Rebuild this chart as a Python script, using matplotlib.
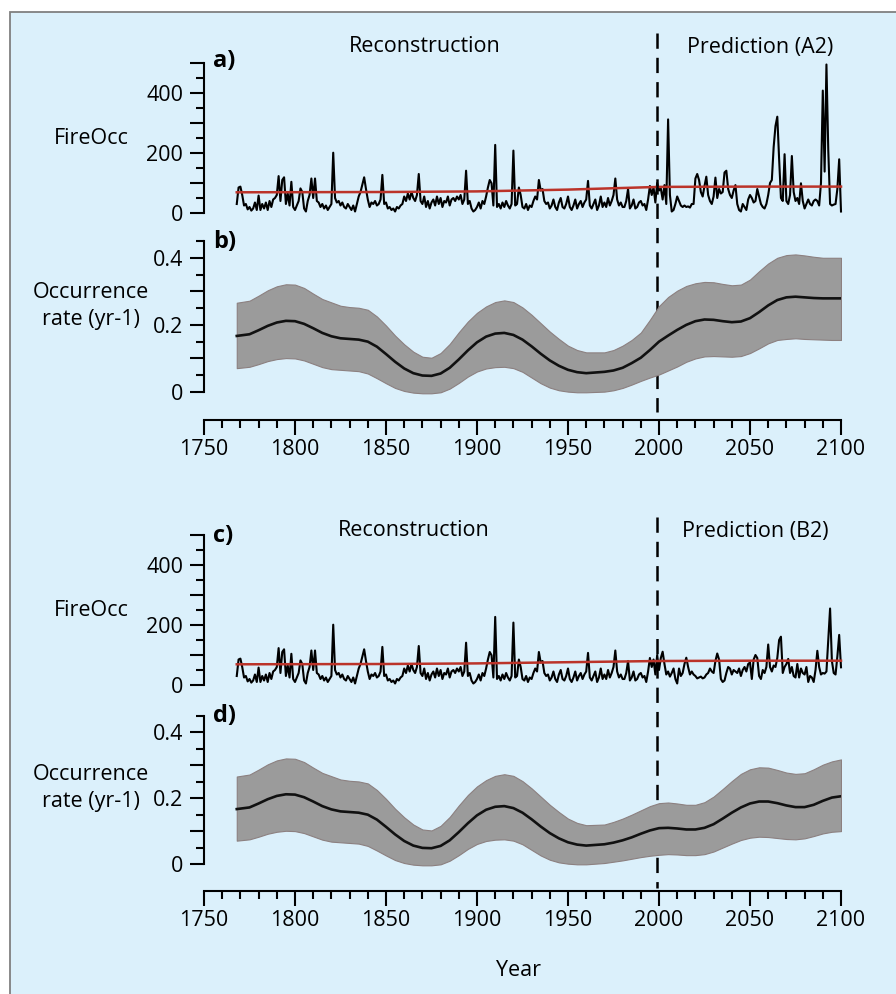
import matplotlib
matplotlib.use("Agg")
import matplotlib.pyplot as plt
from matplotlib.patches import Rectangle
from matplotlib.ticker import MultipleLocator, FixedLocator, FixedFormatter
import matplotlib.transforms as mtransforms

plt.rcParams['font.family'] = ['Open Sans', 'DejaVu Sans']
plt.rcParams['lines.scale_dashes'] = False

# ---------------- data ----------------
fire_start_year = 1768
# reconstruction 1768-1999 (shared by both scenarios)
fire_recon = [
    30, 85, 88, 60, 25, 30, 12, 20, 8, 15, 35, 10,          # 1768-1779
    58, 10, 30, 15, 35, 10, 40, 20, 45, 50,                 # 1780s
    60, 123, 40, 110, 119, 30, 65, 25, 104, 20,             # 1790s
    10, 25, 40, 82, 70, 15, 5, 40, 60, 115,                 # 1800s
    50, 115, 40, 35, 20, 30, 15, 25, 10, 20,                # 1810s
    30, 201, 50, 35, 40, 25, 35, 20, 15, 30,                # 1820s
    20, 10, 25, 5, 30, 55, 70, 95, 119, 80,                 # 1830s
    45, 20, 35, 30, 40, 25, 30, 45, 127, 30,                # 1840s
    35, 15, 20, 10, 15, 5, 20, 15, 25, 30,                  # 1850s
    55, 40, 65, 45, 70, 50, 40, 60, 130, 40,                # 1860s
    30, 55, 20, 40, 15, 35, 45, 25, 55, 30,                 # 1870s
    50, 20, 40, 35, 55, 25, 45, 50, 40, 55,                 # 1880s
    45, 60, 30, 45, 141, 30, 40, 15, 5, 10,                 # 1890s
    20, 35, 15, 40, 30, 55, 85, 110, 99, 25,                # 1900s
    227, 20, 30, 15, 35, 20, 40, 25, 15, 30,                # 1910s
    208, 25, 30, 85, 60, 20, 15, 30, 10, 25,                # 1920s
    20, 40, 55, 45, 110, 75, 80, 40, 30, 35,                # 1930s
    15, 25, 45, 20, 10, 35, 50, 20, 15, 30,                 # 1940s
    55, 20, 10, 25, 45, 15, 30, 40, 20, 35,                 # 1950s
    45, 107, 25, 15, 30, 45, 10, 25, 55, 20,                # 1960s
    35, 20, 50, 25, 40, 60, 115, 45, 25, 35,                # 1970s
    20, 20, 40, 80, 15, 25, 45, 15, 20, 35,                 # 1980s
    40, 25, 30, 10, 45, 90, 60, 85, 35, 100,                # 1990s
]
# prediction 2000-2100, scenario A2
fire_pred_a2 = [
    75, 82, 45, 93, 30, 312, 60, 5, 10, 30,                 # 2000s
    55, 40, 25, 20, 25, 20, 22, 18, 30, 30,                 # 2010s
    115, 130, 110, 70, 55, 90, 121, 60, 40, 30,             # 2020s
    55, 118, 50, 80, 65, 70, 135, 141, 80, 60,              # 2030s
    50, 75, 93, 30, 10, 5, 30, 20, 10, 45,                  # 2040s
    60, 50, 35, 40, 80, 55, 30, 20, 15, 30,                 # 2050s
    60, 100, 110, 220, 290, 321, 180, 50, 40, 196,          # 2060s
    40, 30, 60, 190, 70, 40, 50, 30, 99, 40,                # 2070s
    15, 30, 45, 30, 25, 40, 45, 40, 25, 100,                # 2080s
    408, 138, 495, 210, 30, 25, 28, 30, 80, 179,            # 2090s
    5,                                                      # 2100
]
# prediction 2000-2100, scenario B2
fire_pred_b2 = [
    50, 90, 111, 70, 35, 45, 28, 40, 55, 20,
    5, 55, 30, 40, 70, 91, 60, 35, 45, 35,
    30, 22, 25, 28, 22, 25, 35, 40, 55, 45,
    40, 80, 105, 85, 20, 10, 15, 40, 60, 55,
    35, 50, 45, 40, 55, 30, 50, 60, 45, 70,
    75, 20, 85, 100, 90, 30, 20, 50, 40, 60,
    135, 60, 45, 65, 60, 90, 150, 161, 40, 60,
    70, 87, 40, 60, 30, 25, 70, 25, 55, 40,
    35, 60, 10, 30, 25, 10, 50, 114, 60, 35,
    40, 38, 45, 150, 255, 80, 40, 35, 95, 167,
    59,
]

trend_years = [1768, 1850, 1900, 1950, 2000, 2050, 2100]
trend_a2 = [69, 70, 72, 78, 87, 88, 88]
trend_b2 = [69, 70, 72, 76, 80, 81, 81]

rate_years_recon = [1768, 1775, 1780, 1785, 1790, 1795, 1800, 1805, 1810, 1815,
                    1820, 1825, 1830, 1835, 1840, 1845, 1850, 1855, 1860, 1865,
                    1870, 1875, 1880, 1885, 1890, 1895, 1900, 1905, 1910, 1915,
                    1920, 1925, 1930, 1935, 1940, 1945, 1950, 1955, 1960]
rate_recon_mean = [0.167, 0.172, 0.184, 0.197, 0.207, 0.212, 0.211, 0.203, 0.190, 0.176,
                   0.166, 0.160, 0.158, 0.156, 0.150, 0.135, 0.113, 0.090, 0.070, 0.056,
                   0.049, 0.048, 0.055, 0.072, 0.097, 0.124, 0.148, 0.165, 0.174, 0.176,
                   0.170, 0.156, 0.136, 0.114, 0.094, 0.078, 0.066, 0.059, 0.056]
rate_recon_upper = [0.266, 0.272, 0.287, 0.303, 0.315, 0.321, 0.320, 0.310, 0.293, 0.277,
                    0.267, 0.257, 0.253, 0.251, 0.245, 0.225, 0.198, 0.168, 0.142, 0.120,
                    0.105, 0.102, 0.116, 0.143, 0.178, 0.210, 0.236, 0.255, 0.268, 0.273,
                    0.268, 0.252, 0.230, 0.205, 0.180, 0.158, 0.138, 0.125, 0.118]
rate_recon_lower = [0.071, 0.075, 0.083, 0.092, 0.098, 0.101, 0.100, 0.094, 0.084, 0.074,
                    0.068, 0.066, 0.064, 0.062, 0.055, 0.041, 0.026, 0.012, 0.003, -0.002,
                    -0.004, -0.004, -0.001, 0.010, 0.027, 0.046, 0.061, 0.070, 0.074, 0.075,
                    0.071, 0.060, 0.043, 0.026, 0.013, 0.005, 0.001, -0.001, -0.001]

rate_years_pred = [1965, 1970, 1975, 1980, 1985, 1990, 1995, 2000, 2005, 2010,
                   2015, 2020, 2025, 2030, 2035, 2040, 2045, 2050, 2055, 2060,
                   2065, 2070, 2075, 2080, 2085, 2090, 2095, 2100]
rate_a2_mean = [0.057, 0.060, 0.064, 0.072, 0.086, 0.102, 0.125, 0.150, 0.168, 0.185,
                0.200, 0.211, 0.216, 0.215, 0.211, 0.208, 0.210, 0.220, 0.238, 0.258,
                0.274, 0.282, 0.284, 0.282, 0.280, 0.279, 0.279, 0.279]
rate_a2_upper = [0.116, 0.118, 0.125, 0.138, 0.155, 0.177, 0.215, 0.256, 0.283, 0.302,
                 0.316, 0.324, 0.328, 0.327, 0.322, 0.318, 0.320, 0.335, 0.360, 0.383,
                 0.400, 0.408, 0.410, 0.407, 0.403, 0.400, 0.400, 0.400]
rate_a2_lower = [-0.001, 0.001, 0.005, 0.012, 0.022, 0.033, 0.043, 0.052, 0.064, 0.076,
                 0.090, 0.100, 0.106, 0.107, 0.106, 0.105, 0.107, 0.116, 0.130, 0.145,
                 0.155, 0.158, 0.160, 0.158, 0.157, 0.156, 0.155, 0.155]
rate_b2_mean = [0.057, 0.060, 0.065, 0.072, 0.081, 0.092, 0.102, 0.109, 0.110, 0.108,
                0.105, 0.105, 0.110, 0.121, 0.138, 0.156, 0.172, 0.184, 0.190, 0.190,
                0.185, 0.178, 0.173, 0.173, 0.180, 0.192, 0.202, 0.206]
rate_b2_upper = [0.116, 0.120, 0.128, 0.138, 0.150, 0.163, 0.176, 0.185, 0.187, 0.184,
                 0.180, 0.180, 0.188, 0.205, 0.228, 0.252, 0.274, 0.288, 0.294, 0.293,
                 0.286, 0.278, 0.274, 0.276, 0.288, 0.302, 0.312, 0.318]
rate_b2_lower = [-0.001, 0.003, 0.007, 0.011, 0.016, 0.021, 0.025, 0.028, 0.030, 0.029,
                 0.027, 0.027, 0.030, 0.038, 0.050, 0.062, 0.073, 0.080, 0.083, 0.082,
                 0.079, 0.076, 0.075, 0.078, 0.085, 0.093, 0.098, 0.100]

split_year = 1999
year_ticks = [1750, 1800, 1850, 1900, 1950, 2000, 2050, 2100]

# ---------------- figure ----------------
W, H = 896, 994
BG = '#dbf0fb'
FS = 15.5
fig = plt.figure(figsize=(W / 100, H / 100), dpi=100)
fig.patch.set_facecolor('white')
fig.patches.append(Rectangle((10 / W, -0.05), 1.2, 1.05 - 12 / H,
                             transform=fig.transFigure, facecolor=BG,
                             edgecolor='#808080', lw=1.3, zorder=-10))


def rect(left, top, right, bottom):
    return [left / W, 1 - bottom / H, (right - left) / W, (bottom - top) / H]


def fx(px):
    return px / W


def fy(py):
    return 1 - py / H


def style_left(ax, top, major, minor, labels):
    ax.set_facecolor('none')
    for s in ['top', 'right']:
        ax.spines[s].set_visible(False)
    ax.spines['left'].set_bounds(0, top)
    ax.spines['left'].set_linewidth(1.5)
    ax.yaxis.set_major_locator(FixedLocator(major))
    ax.yaxis.set_major_formatter(FixedFormatter(labels))
    ax.yaxis.set_minor_locator(FixedLocator(minor))
    ax.tick_params(axis='y', which='major', length=10, width=1.5, pad=5,
                   labelsize=FS, direction='out')
    ax.tick_params(axis='y', which='minor', length=5.5, width=1.5, direction='out')


def fire_panel(ax, pred, trend):
    values = fire_recon + pred
    years = list(range(fire_start_year, fire_start_year + len(values)))
    ax.plot(years, values, color='black', lw=1.5, clip_on=False, zorder=3)
    ax.plot(trend_years, trend, color='#bb3329', lw=1.8, clip_on=False, zorder=4)
    ax.set_xlim(1750, 2100)
    ax.set_ylim(0, 500)
    style_left(ax, 500, [0, 100, 200, 300, 400, 500], [50, 150, 250, 350, 450],
               ['0', '', '200', '', '400', ''])
    ax.spines['bottom'].set_visible(False)
    ax.set_xticks([])


def rate_panel(ax, bottom_val, mean_p, up_p, lo_p):
    yrs = rate_years_recon + rate_years_pred[1:]
    mean = rate_recon_mean + mean_p[1:]
    up = rate_recon_upper + up_p[1:]
    lo = rate_recon_lower + lo_p[1:]
    ax.fill_between(yrs, lo, up, facecolor='#9b9b9b', edgecolor='#8c8080',
                    lw=0.8, zorder=2)
    ax.plot(yrs, mean, color='#111111', lw=1.9, zorder=3)
    ax.set_xlim(1750, 2100)
    ax.set_ylim(bottom_val, 0.45)
    style_left(ax, 0.45, [0, 0.1, 0.2, 0.3, 0.4], [0.05, 0.15, 0.25, 0.35, 0.45],
               ['0', '', '0.2', '', '0.4'])
    ax.spines['bottom'].set_bounds(1750, 2100)
    ax.spines['bottom'].set_linewidth(1.5)
    ax.xaxis.set_major_locator(FixedLocator(year_ticks))
    ax.xaxis.set_minor_locator(MultipleLocator(10))
    ax.tick_params(axis='x', which='major', length=10.5, width=1.5, pad=3,
                   labelsize=FS, direction='out')
    ax.tick_params(axis='x', which='minor', length=5.5, width=1.5, direction='out')


ax_a = fig.add_axes(rect(204, 63, 841, 213))
fire_panel(ax_a, fire_pred_a2, trend_a2)
ax_b = fig.add_axes(rect(204, 241, 841, 420))
rate_panel(ax_b, -(420 - 392) / 335, rate_a2_mean, rate_a2_upper, rate_a2_lower)
ax_c = fig.add_axes(rect(204, 535, 841, 685))
fire_panel(ax_c, fire_pred_b2, trend_b2)
ax_d = fig.add_axes(rect(204, 716, 841, 891))
rate_panel(ax_d, -(891 - 864) / 329, rate_b2_mean, rate_b2_upper, rate_b2_lower)

# dashed split lines
for ax, y0, y1 in [(ax_a, 33, 412), (ax_c, 517, 888)]:
    tr = mtransforms.blended_transform_factory(ax.transData, fig.transFigure)
    ax.plot([split_year, split_year], [fy(y0), fy(y1)], transform=tr,
            color='black', lw=1.8, linestyle=(0, (11, 6.5)), clip_on=False, zorder=5)

# texts
def ftext(x, y, s, **kw):
    kw.setdefault('fontsize', FS)
    fig.text(fx(x), fy(y), s, va='center', **kw)

ftext(425, 47, 'Reconstruction', ha='center')
ftext(760, 47, 'Prediction (A2)', ha='center')
ftext(414, 531, 'Reconstruction', ha='center')
ftext(755, 531, 'Prediction (B2)', ha='center')
for (px_, py_, lab) in [(213, 61, 'a)'), (213, 242, 'b)'), (213, 536, 'c)'), (213, 716, 'd)')]:
    ftext(px_, py_, lab, ha='left', fontweight='bold', fontsize=17)
ftext(91, 138, 'FireOcc', ha='center')
ftext(91, 610, 'FireOcc', ha='center')
ftext(91, 306, 'Occurrence\nrate (yr-1)', ha='center', linespacing=1.4)
ftext(91, 788, 'Occurrence\nrate (yr-1)', ha='center', linespacing=1.4)
ftext(518, 970, 'Year', ha='center')

fig.savefig('out.png', dpi=100, facecolor=fig.get_facecolor())
